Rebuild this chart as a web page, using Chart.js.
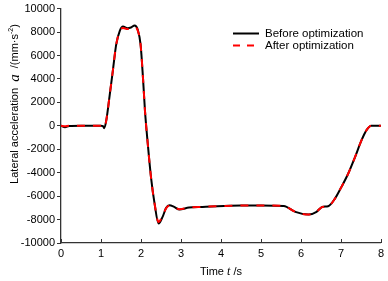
<!DOCTYPE html>
<html>
<head>
<meta charset="utf-8">
<script src="https://cdn.jsdelivr.net/npm/chart.js@4/dist/chart.umd.min.js"></script>
<style>
  html, body { margin: 0; padding: 0; background: #fff; }
</style>
</head>
<body>
<canvas id="chart" width="388" height="281"></canvas>
<script>
const times = [0, 0.1, 0.2, 0.5, 1.0, 1.05, 1.08, 1.13, 1.22, 1.30, 1.38, 1.47, 1.55, 1.66, 1.75, 1.84, 1.92, 1.99, 2.05, 2.10, 2.17, 2.25, 2.34, 2.44, 2.54, 2.63, 2.71, 2.83, 2.96, 3.2, 3.54, 3.91, 4.5, 5.0, 5.57, 5.86, 6.19, 6.39, 6.53, 6.68, 6.85, 7.01, 7.18, 7.35, 7.51, 7.64, 7.76, 8.0];
const beforeOpt = [0, -120, -20, 0, 0, -30, -200, 420, 2690, 4800, 6920, 8100, 8470, 8330, 8390, 8560, 8190, 6920, 4090, 1270, -1550, -4380, -6640, -8330, -7770, -7000, -6780, -6920, -7150, -6980, -6920, -6860, -6800, -6790, -6840, -7340, -7570, -7340, -6920, -6860, -6210, -5230, -4090, -2690, -1270, -370, 0, 0];
const afterOpt = [0, -40, 0, 0, 0, -10, -120, 420, 2690, 4800, 6920, 8050, 8350, 8250, 8300, 8420, 8120, 6920, 4090, 1270, -1550, -4380, -6640, -8200, -7700, -7020, -6820, -6930, -7120, -6980, -6920, -6860, -6800, -6790, -6840, -7340, -7570, -7340, -6920, -6860, -6210, -5230, -4090, -2690, -1270, -370, 0, 0];
const seriesNames = ["Before optimization", "After optimization"];
const xTicks = [0, 1, 2, 3, 4, 5, 6, 7, 8];

const font = "Liberation Sans, Arial, sans-serif";

const toPoints = vals => times.map((t, i) => ({ x: t, y: vals[i] }));

// axis titles with italic symbols, inward x ticks and the in-plot legend
const extras = {
  id: "extras",
  afterDraw(chart) {
    const ctx = chart.ctx;
    const area = chart.chartArea;
    const xs = chart.scales.x;
    ctx.save();

    // x ticks pointing up
    ctx.strokeStyle = "#333";
    ctx.lineWidth = 1;
    xTicks.forEach(v => {
      const px = Math.round(xs.getPixelForValue(v)) + 0.5;
      ctx.beginPath();
      ctx.moveTo(px, area.bottom);
      ctx.lineTo(px, area.bottom - 4);
      ctx.stroke();
    });

    ctx.fillStyle = "#000";
    ctx.textBaseline = "middle";

    function drawParts(parts, cx, cy) {
      let total = 0;
      parts.forEach(p => { ctx.font = p.f; p.w = ctx.measureText(p.t).width; total += p.w; });
      let x = cx - total / 2;
      parts.forEach(p => {
        ctx.font = p.f;
        ctx.fillText(p.t, x, cy + (p.dy || 0));
        x += p.w;
      });
    }

    // x title
    drawParts([
      { t: "Time ", f: "11px " + font },
      { t: "t", f: "italic 12px Liberation Serif, serif" },
      { t: " /s", f: "11px " + font }
    ], (area.left + area.right) / 2, 272);

    // y title
    ctx.save();
    ctx.translate(15, 104);
    ctx.rotate(-Math.PI / 2);
    drawParts([
      { t: "Lateral acceleration  ", f: "11px " + font },
      { t: "a", f: "italic 15px Liberation Serif, serif" },
      { t: "  /(mm\u00b7s", f: "11px " + font },
      { t: "-2", f: "7px " + font, dy: -4 },
      { t: ")", f: "11px " + font }
    ], 0, 0);
    ctx.restore();

    // legend
    const items = [
      { color: "#000", dash: [] },
      { color: "#ff0000", dash: [7, 7] }
    ];
    items.forEach((it, i) => {
      const y = 33.5 + i * 12;
      ctx.strokeStyle = it.color;
      ctx.lineWidth = 2;
      ctx.setLineDash(it.dash);
      ctx.beginPath();
      ctx.moveTo(233, y);
      ctx.lineTo(259, y);
      ctx.stroke();
      ctx.setLineDash([]);
      ctx.font = "11.5px " + font;
      ctx.textAlign = "left";
      ctx.fillStyle = "#000";
      ctx.fillText(seriesNames[i], 265, y);
    });

    ctx.restore();
  }
};

new Chart(document.getElementById("chart"), {
  type: "line",
  data: {
    datasets: [
      {
        label: seriesNames[1],
        data: toPoints(afterOpt),
        borderColor: "#ff0000",
        borderWidth: 2,
        borderDash: [8, 8],
        pointRadius: 0,
        cubicInterpolationMode: "monotone",
        fill: false,
        order: 0
      },
      {
        label: seriesNames[0],
        data: toPoints(beforeOpt),
        borderColor: "#000",
        borderWidth: 2,
        pointRadius: 0,
        cubicInterpolationMode: "monotone",
        fill: false,
        order: 1
      }
    ]
  },
  options: {
    responsive: false,
    animation: false,
    devicePixelRatio: 1,
    layout: { padding: { top: 7, right: 5, left: 0, bottom: 0 } },
    plugins: { legend: { display: false }, tooltip: { enabled: false } },
    scales: {
      x: {
        type: "linear",
        min: 0,
        max: 8,
        afterBuildTicks: axis => { axis.ticks = xTicks.map(v => ({ value: v })); },
        afterFit: axis => { axis.height = 38; },
        grid: { display: true, drawOnChartArea: false, drawTicks: false },
        border: { color: "#333", width: 1.3 },
        ticks: { color: "#000", font: { family: font, size: 11 }, padding: 4, maxRotation: 0, callback: v => String(v) }
      },
      y: {
        min: -10000,
        max: 10000,
        afterFit: axis => { axis.width = 61; },
        grid: { display: true, drawOnChartArea: false, drawTicks: true, tickLength: 4, color: "#333" },
        border: { color: "#333", width: 1.3 },
        ticks: { stepSize: 2000, color: "#000", font: { family: font, size: 11 }, padding: 2, callback: v => String(v) }
      }
    }
  },
  plugins: [extras]
});
</script>
</body>
</html>
